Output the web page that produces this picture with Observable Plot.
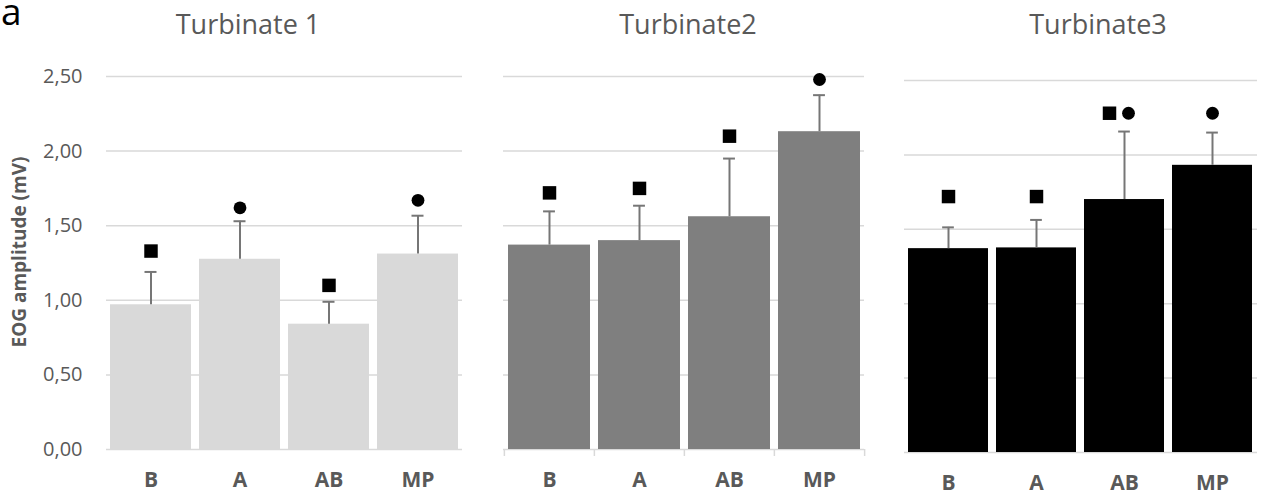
<!DOCTYPE html>
<html>
<head>
<meta charset="utf-8">
<script src="https://cdn.jsdelivr.net/npm/d3@7"></script>
<script src="https://cdn.jsdelivr.net/npm/@observablehq/plot@0.6"></script>
<style>
  body { margin: 0; background: #fff; font-family: "Open Sans", sans-serif; }
  #wrap { position: relative; width: 1265px; height: 499px; overflow: hidden; background: #fff; }
  .title { position: absolute; top: 10px; font-size: 27px; line-height: 27px; color: #595959; transform: translateX(-50%); white-space: nowrap; }
  .panel { position: absolute; top: 60px; }
  #letter { position: absolute; left: 1px; top: 0px; font-size: 37px; line-height: 21px; color: #000; }
  #ylabel { position: absolute; left: 19px; top: 252px; font-size: 19px; font-weight: bold; color: #595959; white-space: nowrap; transform: translate(-50%, -50%) rotate(-90deg); line-height: 19px; }
</style>
</head>
<body>
<div id="wrap"></div>
<script>
// ---------- data ----------
const categories = ["B", "A", "AB", "MP"];
const panelTitles = ["Turbinate 1", "Turbinate2", "Turbinate3"];
const yTicks = [0, 0.5, 1, 1.5, 2, 2.5];
const yLabel = "EOG amplitude (mV)";
const panelLetter = "a";

const meansT1 = [0.97, 1.275, 0.84, 1.31];
const errT1   = [0.22, 0.255, 0.15, 0.257];
const meansT2 = [1.37, 1.40, 1.56, 2.13];
const errT2   = [0.226, 0.234, 0.39, 0.245];
const meansT3 = [1.37, 1.375, 1.70, 1.93];
const errT3   = [0.143, 0.188, 0.457, 0.22];

const markCatsT1   = ["B", "A", "AB", "MP"];
const markShapesT1 = ["square", "circle", "square", "circle"];
const markYT1      = [1.33, 1.62, 1.10, 1.67];
const markCatsT2   = ["B", "A", "AB", "MP"];
const markShapesT2 = ["square", "square", "square", "circle"];
const markYT2      = [1.72, 1.75, 2.10, 2.48];
const markCatsT3   = ["B", "A", "AB", "AB", "MP"];
const markShapesT3 = ["square", "square", "square", "circle", "circle"];
const markYT3      = [1.72, 1.72, 2.28, 2.28, 2.28];

// ---------- layout / style ----------
const barColors = ["#d9d9d9", "#7f7f7f", "#000000"];
const panels = [
  {left: 0,   width: 470, ml: 106, mr: 8, mt: 16, mb: 50, titleX: 248, yAxis: true,  xTicks: false,
   means: meansT1, errs: errT1, mc: markCatsT1, ms: markShapesT1, my: markYT1},
  {left: 470, width: 400, ml: 33,  mr: 6, mt: 16, mb: 50, titleX: 688, yAxis: false, xTicks: true,
   means: meansT2, errs: errT2, mc: markCatsT2, ms: markShapesT2, my: markYT2},
  {left: 875, width: 390, ml: 29,  mr: 8, mt: 20, mb: 47, titleX: 1098, yAxis: false, xTicks: false,
   means: meansT3, errs: errT3, mc: markCatsT3, ms: markShapesT3, my: markYT3}
];
const H = 439;
const padInner = 0.09, padOuter = 0.045;
const gray = "#595959";
const errColor = "#767676";
const fontFamily = "'Open Sans', sans-serif";
const fmt = d => d.toFixed(2).replace(".", ",");

const wrap = document.getElementById("wrap");

const letter = document.createElement("div");
letter.id = "letter"; letter.textContent = panelLetter; wrap.appendChild(letter);

const yl = document.createElement("div");
yl.id = "ylabel"; yl.textContent = yLabel; wrap.appendChild(yl);

panels.forEach((p, pi) => {
  const t = document.createElement("div");
  t.className = "title";
  t.style.left = p.titleX + "px";
  t.textContent = panelTitles[pi];
  wrap.appendChild(t);

  const bars = categories.map((c, i) => ({cat: c, mean: p.means[i], top: p.means[i] + p.errs[i]}));
  const marks = p.mc.map((c, i) => ({cat: c, shape: p.ms[i], y: p.my[i]}));
  // markers sharing a category are placed side by side
  marks.forEach(m => {
    const group = marks.filter(o => o.cat === m.cat);
    m.pos = group.length > 1 ? group.indexOf(m) : -1;
  });

  const frameW = p.width - p.ml - p.mr;
  const step = frameW / categories.length;
  const bandwidth = step * (1 - padInner);
  const capInset = (bandwidth - 12) / 2;
  const frameH = H - p.mt - p.mb;

  const markList = [
    Plot.gridY(yTicks, {stroke: "#d9d9d9", strokeOpacity: 1, strokeWidth: 1.5}),
  ];
  if (p.xTicks) {
    markList.push(
      Plot.ruleX(categories, {x: d => d, dx: -step / 2, stroke: "#d9d9d9", strokeWidth: 1.5, insetTop: frameH, insetBottom: -7}),
      Plot.ruleX(categories.slice(-1), {x: d => d, dx: step / 2, stroke: "#d9d9d9", strokeWidth: 1.5, insetTop: frameH, insetBottom: -7})
    );
  }
  markList.push(
    Plot.barY(bars, {x: "cat", y: "mean", fill: barColors[pi]}),
    Plot.ruleX(bars, {x: "cat", y1: "mean", y2: "top", stroke: errColor, strokeWidth: 2}),
    Plot.tickY(bars, {x: "cat", y: "top", stroke: errColor, strokeWidth: 2, insetLeft: capInset, insetRight: capInset}),
    Plot.dot(marks, {filter: m => m.pos < 0 && m.shape === "square", x: "cat", y: "y", symbol: "square", r: 7.6, fill: "#000", stroke: "none"}),
    Plot.dot(marks, {filter: m => m.pos < 0 && m.shape === "circle", x: "cat", y: "y", symbol: "circle", r: 6.4, fill: "#000", stroke: "none"}),
    Plot.dot(marks, {filter: m => m.pos === 0, x: "cat", y: "y", symbol: "square", r: 7.6, dx: -15, fill: "#000", stroke: "none"}),
    Plot.dot(marks, {filter: m => m.pos === 1, x: "cat", y: "y", symbol: "circle", r: 6.4, dx: 4, fill: "#000", stroke: "none"}),
    Plot.axisX(categories, {tickSize: 0, tickPadding: 23, fontSize: 21, fontWeight: "bold", color: gray, label: null})
  );
  if (p.yAxis) {
    markList.push(Plot.axisY(yTicks, {tickSize: 0, tickPadding: 24, fontSize: 20, color: gray, tickFormat: fmt, label: null}));
  } else {
    markList.push(Plot.axisY([], {label: null, tickSize: 0}));
  }

  const chart = Plot.plot({
    width: p.width,
    height: H,
    marginLeft: p.ml,
    marginRight: p.mr,
    marginTop: p.mt,
    marginBottom: p.mb,
    style: {fontFamily, background: "transparent", overflow: "visible"},
    x: {domain: categories, paddingInner: padInner, paddingOuter: padOuter, label: null},
    y: {domain: [0, 2.5], label: null},
    marks: markList
  });
  const holder = document.createElement("div");
  holder.className = "panel";
  holder.style.left = p.left + "px";
  holder.appendChild(chart);
  wrap.appendChild(holder);
});
</script>
</body>
</html>
